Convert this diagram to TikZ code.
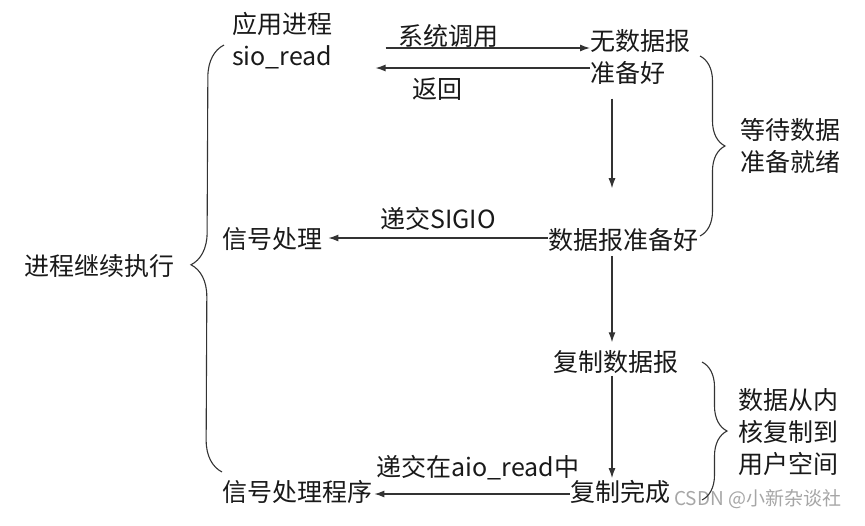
\documentclass[tikz,border=0pt]{standalone}
\usepackage{fontspec}
\setmainfont{Noto Sans CJK SC}
\usepackage{tikz}
\usetikzlibrary{arrows.meta,decorations.pathreplacing}

\begin{document}
\begin{tikzpicture}[x=1pt,y=-1pt,
  txt/.style={font=\fontsize{25}{32}\selectfont,text=black!90,inner sep=0pt,align=left},
  arr/.style={draw=black!80,line width=1.2pt,-{Latex[length=10pt,width=7pt]}},
  brc/.style={draw=black!80,line width=1.1pt,decorate,decoration={brace,amplitude=#1}}]
\useasboundingbox (0,0) rectangle (865,525);

\node[txt,anchor=west] (app) at (232,41) {应用进程\\sio\_read};
\node[txt,anchor=west] (nodata) at (590,57) {无数据报\\准备好};
\node[txt,anchor=west] (ready) at (548,240) {数据报准备好};
\node[txt,anchor=west] (sig) at (222,239) {信号处理};
\node[txt,anchor=west] (copy) at (553,362) {复制数据报};
\node[txt,anchor=west] (done) at (570,492) {复制完成};
\node[txt,anchor=west] (handler) at (222,492) {信号处理程序};
\node[txt,anchor=west] (wait) at (740,146) {等待数据\\准备就绪};
\node[txt,anchor=west] (kcopy) at (738,432) {数据从内\\核复制到\\用户空间};
\node[txt,anchor=east] (cont) at (175,266) {进程继续执行};
\node[font=\fontsize{19}{22}\selectfont,text=gray!70,inner sep=0pt,anchor=west] (mark) at (674,499) {CSDN @小新杂谈社};

\coordinate (spine) at (612,0);
\coordinate (w1t) at (700,56);
\coordinate (w1b) at (700,236);
\coordinate (w2t) at (702,362);
\coordinate (w2b) at (702,500);
\coordinate (ct) at (224,45);
\coordinate (cb) at (222,472);

\draw[arr] ([xshift=53pt,yshift=-7pt]app.east) -- ([yshift=9pt]nodata.west)
  node[txt,pos=0.31,above=0pt] (call) {系统调用};
\draw[arr] ([yshift=-11pt]nodata.west) -- ([xshift=43pt,yshift=-27pt]app.east)
  node[txt,pos=0.71,below=9pt] (ret) {返回};
\draw[arr] ([yshift=-14pt]nodata.south -| spine) -- ([yshift=40pt]ready.north -| spine);
\draw[arr] ([yshift=2pt]ready.west) -- ([xshift=6pt,yshift=2pt]ready.west -| sig.east)
  node[txt,pos=0.5,above=7pt] (sigio) {递交SIGIO};
\draw[arr] ([yshift=-4pt]ready.south -| spine) -- ([yshift=8pt]copy.north -| spine);
\draw[arr] ([yshift=-2pt]copy.south -| spine) -- ([yshift=2pt]done.north -| spine);
\draw[arr] ([yshift=-2pt]done.west) -- ([xshift=2pt,yshift=-2pt]done.west -| handler.east)
  node[txt,pos=0.47,above=13pt] (aio) {递交在aio\_read中};

\draw[brc=25pt] (w1t) -- (w1b);
\draw[brc=25pt] (w2t) -- (w2b);
\draw[brc=32pt,decoration={aspect=0.485}] (cb) -- (ct);
\end{tikzpicture}
\end{document}
